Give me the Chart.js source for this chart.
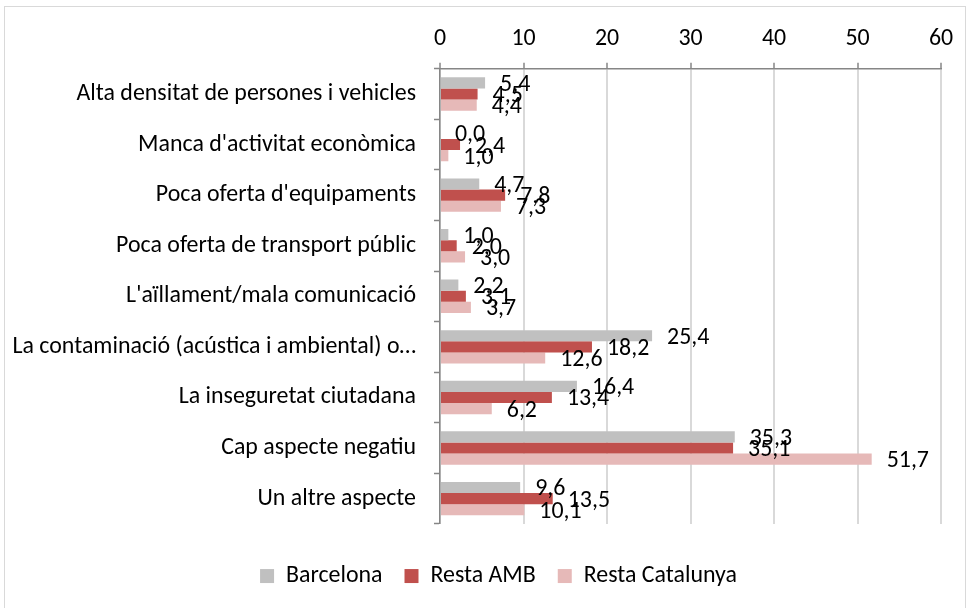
<!DOCTYPE html>
<html>
<head>
<meta charset="utf-8">
<script src="https://cdn.jsdelivr.net/npm/chart.js@4/dist/chart.umd.min.js"></script>
<style>
  body { margin: 0; background: #fff; }
  #frame { position: absolute; left: 4px; top: 6px; width: 960px; height: 640px; border: 1px solid #d9d9d9; }
  canvas { position: absolute; left: 0; top: 0; }
</style>
</head>
<body>
<div id="frame"></div>
<canvas id="chart" width="972" height="608"></canvas>
<script>
const categories = [
  'Alta densitat de persones i vehicles',
  "Manca d'activitat econòmica",
  "Poca oferta d'equipaments",
  'Poca oferta de transport públic',
  "L'aïllament/mala comunicació",
  'La contaminació (acústica i ambiental) o…',
  'La inseguretat ciutadana',
  'Cap aspecte negatiu',
  'Un altre aspecte'
];
const barcelona = [5.4, 0.0, 4.7, 1.0, 2.2, 25.4, 16.4, 35.3, 9.6];
const restaAMB = [4.5, 2.4, 7.8, 2.0, 3.1, 18.2, 13.4, 35.1, 13.5];
const restaCatalunya = [4.4, 1.0, 7.3, 3.0, 3.7, 12.6, 6.2, 51.7, 10.1];
const xMin = 0, xMax = 60, xStep = 10;

const fontFamily = "Carlito, 'Open Sans', sans-serif";

// pick a size so the first category label is about as wide as in the original (340px)
const measureCtx = document.createElement('canvas').getContext('2d');
measureCtx.font = "100px " + fontFamily;
const fontSize = Math.round(100 * 340 / measureCtx.measureText(categories[0]).width * 10) / 10;

function fmt(v) {
  return v.toFixed(1).replace('.', ',');
}

const valueLabels = {
  id: 'valueLabels',
  afterDatasetsDraw(chart) {
    const ctx = chart.ctx;
    ctx.save();
    ctx.font = fontSize + 'px ' + fontFamily;
    ctx.fillStyle = '#000';
    ctx.textBaseline = 'middle';
    ctx.textAlign = 'left';
    chart.data.datasets.forEach((ds, i) => {
      chart.getDatasetMeta(i).data.forEach((bar, j) => {
        ctx.fillText(fmt(ds.data[j]), bar.x + 15, bar.y + 2);
      });
    });
    ctx.restore();
  }
};

// the original legend sits a bit right of centre
const legendShift = {
  id: 'legendShift',
  afterLayout(chart) {
    chart.legend.left += 28;
    chart.legend.right += 28;
  }
};

const data = {
  labels: categories,
  datasets: [
    { label: 'Barcelona', data: barcelona, backgroundColor: '#c0c0c0' },
    { label: 'Resta AMB', data: restaAMB, backgroundColor: '#c0504d' },
    { label: 'Resta Catalunya', data: restaCatalunya, backgroundColor: '#e6b9b8' }
  ]
};

const config = {
  type: 'bar',
  data: data,
  options: {
    indexAxis: 'y',
    responsive: false,
    animation: false,
    categoryPercentage: 0.66,
    barPercentage: 1.0,
    layout: { padding: { top: 16, right: 31, bottom: 10, left: 0 } },
    scales: {
      x: {
        position: 'top',
        min: xMin,
        max: xMax,
        ticks: { stepSize: xStep, color: '#000', padding: 9, font: { family: fontFamily, size: fontSize } },
        grid: {
          color: '#d9d9d9',
          lineWidth: 2,
          borderDash: [8, 4],
          tickColor: '#868686',
          tickWidth: 1.5,
          tickBorderDash: [],
          tickLength: 6
        },
        border: { color: '#868686', width: 1.5 }
      },
      y: {
        afterFit(scale) { scale.width = 440; },
        ticks: { color: '#000', padding: 18, font: { family: fontFamily, size: fontSize } },
        grid: {
          drawOnChartArea: false,
          offset: true,
          tickColor: '#868686',
          tickWidth: 1.5,
          tickLength: 6
        },
        border: { color: '#868686', width: 1.5 }
      }
    },
    plugins: {
      legend: {
        position: 'bottom',
        title: { display: true, text: '', padding: { top: 17, bottom: 0 }, font: { size: 1 } },
        labels: {
          color: '#000',
          boxWidth: 14,
          boxHeight: 14,
          padding: 22,
          font: { family: fontFamily, size: fontSize }
        }
      },
      tooltip: { enabled: false }
    }
  },
  plugins: [valueLabels, legendShift]
};

new Chart(document.getElementById('chart'), config);
</script>
</body>
</html>
